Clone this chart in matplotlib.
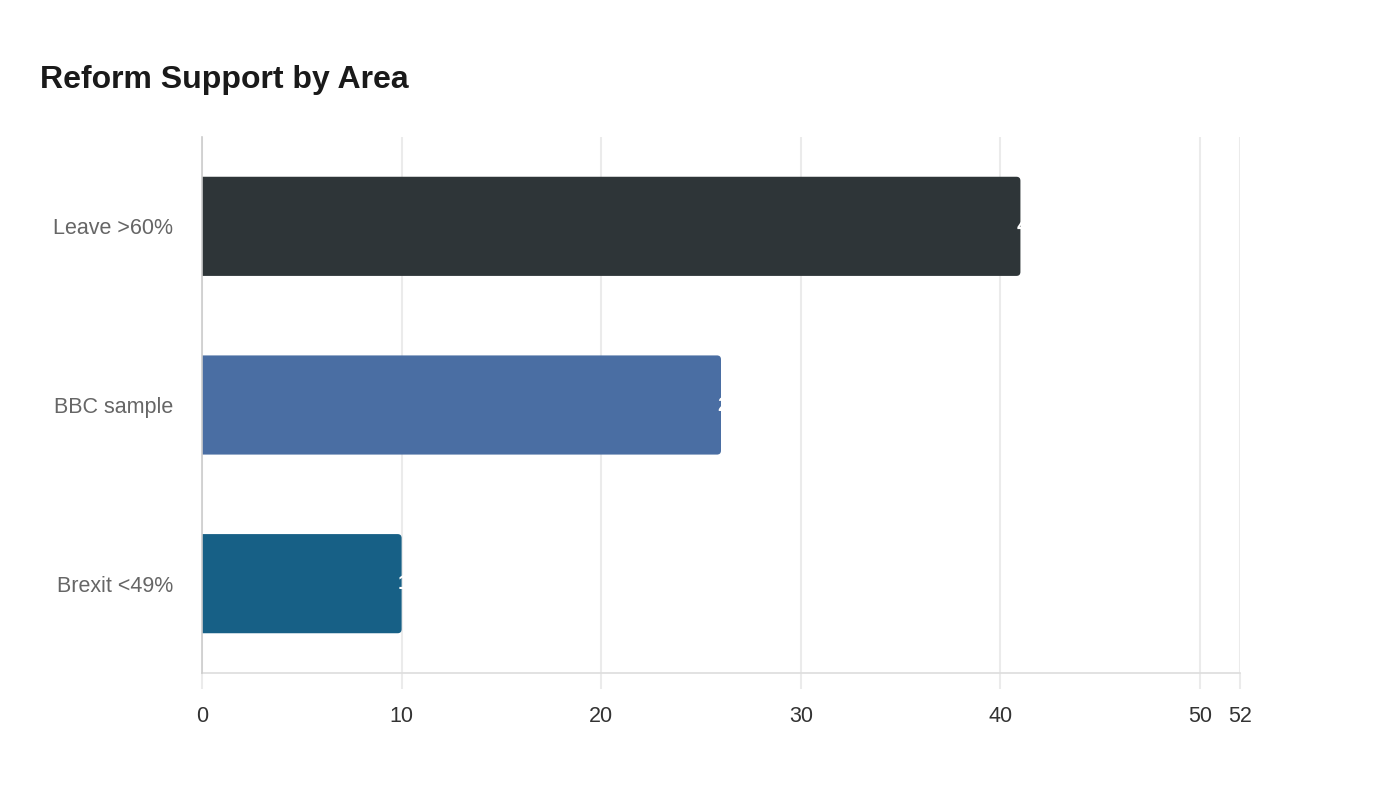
import matplotlib
matplotlib.use("Agg")
import matplotlib.pyplot as plt
from matplotlib.patches import FancyBboxPatch

categories = ["Brexit <49%", "BBC sample", "Leave >60%"]
values = [10, 26, 41]
colors = ["#176086", "#4a6ea3", "#2e3538"]
x_ticks = [0, 10, 20, 30, 40, 50, 52]
title = "Reform Support by Area"

plt.rcParams['font.family'] = ['Liberation Sans', 'DejaVu Sans']

fig = plt.figure(figsize=(14, 8), dpi=100)
ax = fig.add_axes([202/1400, 1-673/800, (1240-202)/1400, (673-137)/800])

ax.set_xlim(0, 52)
ax.set_ylim(-0.5, len(categories) - 0.5)

ypos = list(range(len(categories)))
bars = ax.barh(ypos, values, height=0.555, color=colors, zorder=3)

# rounded right corners: replace each bar by a rounded patch of the same geometry
x_unit_px = (1240 - 202) / 52
y_unit_px = (673 - 137) / 3
for b in bars:
    b.set_visible(False)
    x0, y0, w, h = b.get_x(), b.get_y(), b.get_width(), b.get_height()
    rp = FancyBboxPatch((x0 - 1, y0), w + 1, h,
                        boxstyle="round,pad=0,rounding_size=0.2",
                        mutation_aspect=x_unit_px / y_unit_px,
                        facecolor=b.get_facecolor(), edgecolor='none',
                        zorder=3, clip_on=True)
    ax.add_patch(rp)

for b, v in zip(bars, values):
    ax.annotate(str(v), xy=(v, b.get_y() + b.get_height()/2), xytext=(-3, 0),
                textcoords='offset points', ha='left', va='center',
                color='white', fontsize=15, fontweight='bold', zorder=4)

ax.set_xticks(x_ticks)
ax.set_xticklabels([str(t) for t in x_ticks])
ax.set_yticks(ypos)
ax.set_yticklabels(categories)

ax.grid(axis='x', color='#ebebeb', linewidth=1.5, zorder=0)
ax.grid(axis='y', visible=False)
ax.tick_params(axis='x', length=11.5, width=1.5, color='#ebebeb', labelsize=15.5,
               labelcolor='#333333', pad=12)
ax.tick_params(axis='y', length=0, labelsize=15.5, labelcolor='#666666', pad=21)

for s in ['top', 'right']:
    ax.spines[s].set_visible(False)
ax.spines['left'].set_color('#cccccc')
ax.spines['left'].set_linewidth(1.2)
ax.spines['left'].set_zorder(4)
ax.spines['bottom'].set_color('#dddddd')
ax.spines['bottom'].set_linewidth(1.2)

fig.text(40/1400, 1-80/800, title, fontsize=23, fontweight='bold',
         color='#1a1a1a', va='center', ha='left')

fig.savefig("out.png", dpi=100, facecolor='white')
